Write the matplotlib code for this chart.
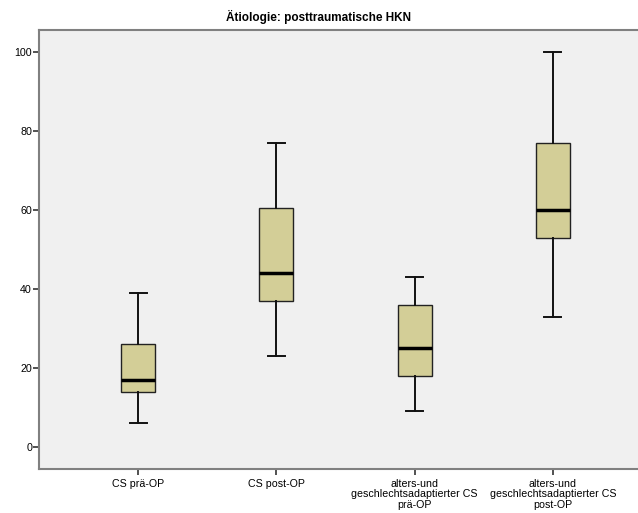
import matplotlib
matplotlib.use("Agg")
import matplotlib.pyplot as plt

plt.rcParams['font.family'] = ['Liberation Sans', 'DejaVu Sans']

categories = ["CS prä-OP", "CS post-OP",
              "alters-und\ngeschlechtsadaptierter CS\nprä-OP",
              "alters-und\ngeschlechtsadaptierter CS\npost-OP"]
whisker_low = [6, 23, 9, 33]
q1 = [14, 37, 18, 53]
median = [17, 44, 25, 60]
q3 = [26, 60.5, 36, 77]
whisker_high = [39, 77, 43, 100]

stats = []
for i in range(len(categories)):
    stats.append({"whislo": whisker_low[i], "q1": q1[i], "med": median[i],
                  "q3": q3[i], "whishi": whisker_high[i], "fliers": []})

fig = plt.figure(figsize=(6.38, 5.13), dpi=100)
ax = fig.add_axes([39 / 638, 1 - 469 / 513, 1 - 39 / 638, (469 - 30) / 513])
ax.set_facecolor("#f0f0f0")

ax.bxp(stats, positions=[1, 2, 3, 4], widths=0.246, capwidths=0.123,
       patch_artist=True, showfliers=False,
       boxprops=dict(facecolor="#d3ce97", edgecolor="#222222", linewidth=1.0),
       medianprops=dict(color="black", linewidth=2.5),
       whiskerprops=dict(color="#111111", linewidth=1.4),
       capprops=dict(color="#111111", linewidth=1.4))

ax.set_xlim(0.284, 4.615)
ax.set_ylim(-5.6, 105.6)
ax.set_yticks([0, 20, 40, 60, 80, 100])
ax.set_xticks([1, 2, 3, 4])
ax.set_xticklabels(categories, fontsize=7.7, linespacing=1.05)
ax.tick_params(axis='y', labelsize=7.7, length=4, width=1.2, color="#333333", pad=1)
ax.tick_params(axis='x', length=4, width=1.2, color="#333333", pad=3)

for side in ["left", "bottom", "top"]:
    ax.spines[side].set_color("#808080")
    ax.spines[side].set_linewidth(1.5)
ax.spines["right"].set_visible(False)

fig.text(0.5, 1 - 17 / 513, "Ätiologie: posttraumatische HKN", ha="center",
         va="center", fontsize=8.5, fontweight="bold")

fig.savefig("out.png", dpi=100)
